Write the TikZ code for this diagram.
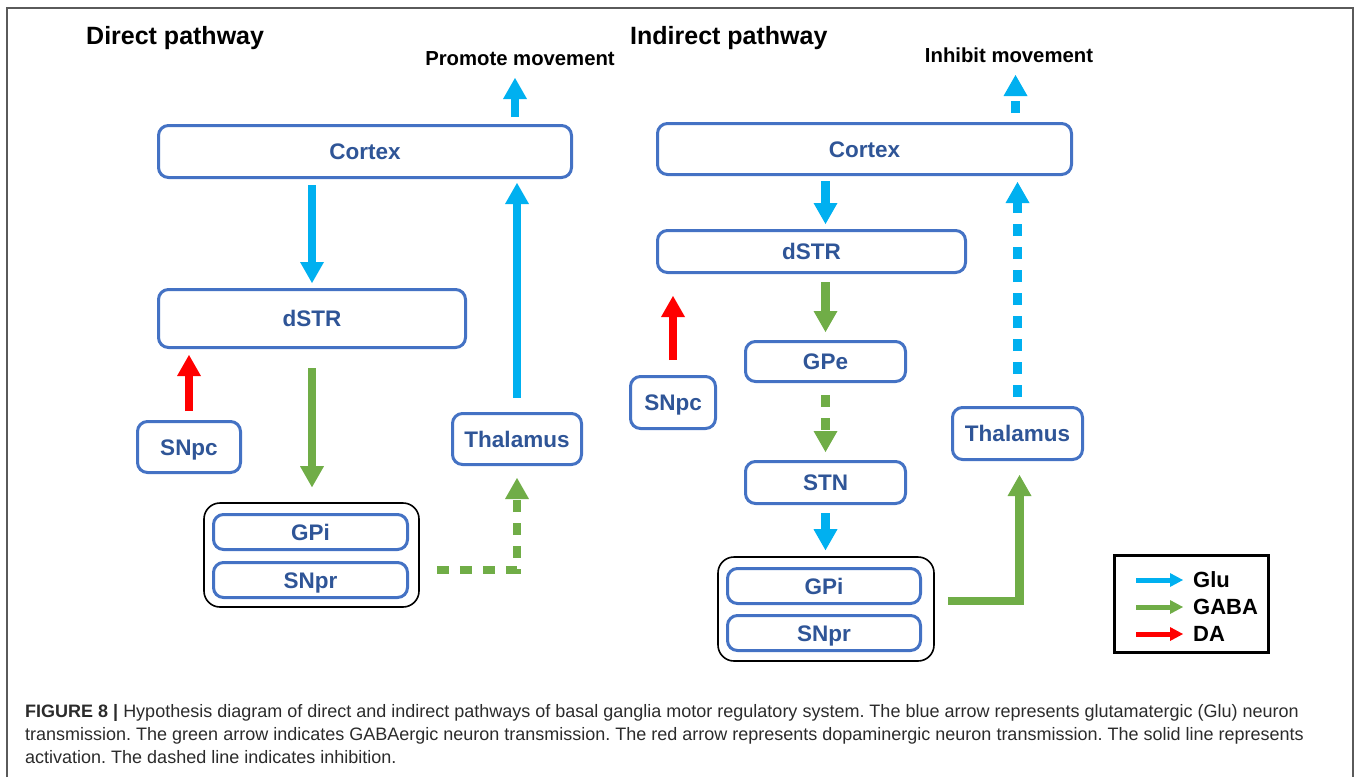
\documentclass[tikz,border=0pt]{standalone}
\usepackage{fontspec}
\setmainfont{Liberation Sans}
\usetikzlibrary{arrows.meta,positioning}
\definecolor{boxblue}{HTML}{4472C4}
\definecolor{txtblue}{HTML}{2F5597}
\definecolor{glublue}{HTML}{00B0F0}
\definecolor{gabagreen}{HTML}{70AD47}
\definecolor{dared}{HTML}{FF0000}
\definecolor{framegray}{HTML}{5A5A5A}
\definecolor{capgray}{HTML}{2B2B2B}
\tikzset{
  region/.style={draw=boxblue,fill=white,line width=3pt,rounded corners=10pt,
                 text=txtblue,font=\fontsize{22.5}{26}\selectfont\bfseries,
                 text height=16pt,text depth=0pt,inner sep=0pt},
  groupbox/.style={draw=black,line width=1.6pt,rounded corners=16pt,inner sep=0pt},
  heading/.style={font=\fontsize{25}{30}\selectfont\bfseries,anchor=base west,inner sep=0pt},
  outcome/.style={font=\fontsize{20.3}{24}\selectfont\bfseries,anchor=base,inner sep=0pt},
  fatarr/.style={line width=8.5pt,-{Triangle[length=21pt,width=24pt,line width=0pt]}},
  gluarr/.style={fatarr,draw=glublue},
  gabaarr/.style={fatarr,draw=gabagreen},
  daarr/.style={fatarr,draw=dared},
  inhib/.style={dash pattern=on 12pt off 11pt},
  keyarr/.style={line width=5pt,-{Triangle[length=13pt,width=14pt,line width=0pt]}},
  keytext/.style={font=\fontsize{22}{26}\selectfont\bfseries,anchor=west,inner sep=0pt}
}

\begin{document}
\begin{tikzpicture}[x=1pt,y=-1pt]
  \useasboundingbox (0,0) rectangle (1357,777);
  \draw[framegray,line width=1.5pt] (7,777) -- (7,8) -- (1353,8) -- (1353,777);

  % direct pathway
  \node[heading] (dtitle) at (86,44) {Direct pathway};
  \node[outcome] (dpromote) at (520,65) {Promote movement};
  \node[region,minimum width=413,minimum height=52] (dcortex) at (365,151.5) {Cortex};
  \node[region,minimum width=307,minimum height=58] (ddstr) at (312,318.5) {dSTR};
  \node[region,minimum width=103,minimum height=51] (dsnpc) at (189,447) {SNpc};
  \node[region,minimum width=129,minimum height=51] (dthal) at (517,439) {Thalamus};
  \node[groupbox,minimum width=215,minimum height=104] (dgroup) at (311.5,555) {};
  \node[region,minimum width=194,minimum height=35] (dgpi) at (310.5,532) {GPi};
  \node[region,minimum width=194,minimum height=35] (dsnpr) at (310.5,580) {SNpr};

  \draw[gluarr,shorten <=6pt,shorten >=5pt] (ddstr.north |- dcortex.south) -- (ddstr.north);
  \draw[daarr,shorten <=9pt,shorten >=6pt] (dsnpc.north) -- (dsnpc.north |- ddstr.south);
  \draw[gabaarr,shorten <=19pt,shorten >=15pt] (ddstr.south) -- (ddstr.south |- dgroup.north);
  \draw[gabaarr,inhib,shorten <=17pt,shorten >=12pt] ([yshift=-15pt]dgroup.east) -| (dthal.south);
  \draw[gluarr,shorten <=14pt,shorten >=4pt] (dthal.north) -- (dthal.north |- dcortex.south);
  \draw[gluarr,shorten <=7pt,shorten >=13pt] ([xshift=-2pt]dthal.north |- dcortex.north) -- ([xshift=-2pt]dthal.north |- dpromote.base);

  % indirect pathway
  \node[heading] (ititle) at (630,44) {Indirect pathway};
  \node[outcome] (iinhibit) at (1009,62) {Inhibit movement};
  \node[region,minimum width=414,minimum height=51] (icortex) at (864.5,149) {Cortex};
  \node[region,minimum width=308,minimum height=42] (idstr) at (811.5,251.5) {dSTR};
  \node[region,minimum width=160,minimum height=40] (igpe) at (825.5,361.5) {GPe};
  \node[region,minimum width=85,minimum height=52] (isnpc) at (673,402.5) {SNpc};
  \node[region,minimum width=160,minimum height=42] (istn) at (825.5,482.5) {STN};
  \node[region,minimum width=130,minimum height=52] (ithal) at (1017.5,433.5) {Thalamus};
  \node[groupbox,minimum width=216,minimum height=104] (igroup) at (826,609) {};
  \node[region,minimum width=193,minimum height=35] (igpi) at (824,586) {GPi};
  \node[region,minimum width=193,minimum height=35] (isnpr) at (824,633) {SNpr};

  \draw[gluarr,shorten <=5pt,shorten >=5pt] (igpe.north |- icortex.south) -- (igpe.north |- idstr.north);
  \draw[gabaarr,shorten <=8pt,shorten >=8pt] (igpe.north |- idstr.south) -- (igpe.north);
  \draw[gabaarr,inhib,shorten <=12pt,shorten >=8pt] (igpe.south) -- (istn.north);
  \draw[gluarr,shorten <=8pt,shorten >=6pt] (istn.south) -- (istn.south |- igroup.north);
  \draw[daarr,shorten <=15pt,shorten >=22pt] (isnpc.north) -- (isnpc.north |- idstr.south);
  \draw[gabaarr,shorten <=13pt,shorten >=14pt] ([yshift=8pt]igroup.east) -| ([xshift=2pt]ithal.south);
  \draw[gluarr,inhib,shorten <=9pt,shorten >=6pt] (ithal.north) -- (ithal.north |- icortex.south);
  \draw[gluarr,inhib,shorten <=9pt,shorten >=13pt] ([xshift=-2pt]ithal.north |- icortex.north) -- ([xshift=-2pt]ithal.north |- iinhibit.base);

  % legend
  \node[draw=black,line width=2.5pt,minimum width=154,minimum height=97,inner sep=0pt] (legend) at (1191.5,604) {};
  \node[keytext] (lglu) at (1193,580) {Glu};
  \node[keytext] (lgaba) at (1193,607) {GABA};
  \node[keytext] (lda) at (1193,634) {DA};
  \coordinate (kglu) at (1136,580);
  \coordinate (kgaba) at (1136,607);
  \coordinate (kda) at (1136,634);
  \draw[keyarr,draw=glublue,shorten >=10pt] (kglu) -- (lglu.west);
  \draw[keyarr,draw=gabagreen,shorten >=10pt] (kgaba) -- (lgaba.west);
  \draw[keyarr,draw=dared,shorten >=10pt] (kda) -- (lda.west);

  % caption
  \node[anchor=north west,inner sep=0pt,align=left,text=capgray,
        font=\fontsize{18}{23}\selectfont\frenchspacing] (caption) at (25,704)
    {\textbf{FIGURE 8 |} Hypothesis diagram of direct and indirect pathways of basal ganglia motor regulatory system. The blue arrow represents glutamatergic (Glu) neuron\\
     transmission. The green arrow indicates GABAergic neuron transmission. The red arrow represents dopaminergic neuron transmission. The solid line represents\\
     activation. The dashed line indicates inhibition.};
\end{tikzpicture}
\end{document}
